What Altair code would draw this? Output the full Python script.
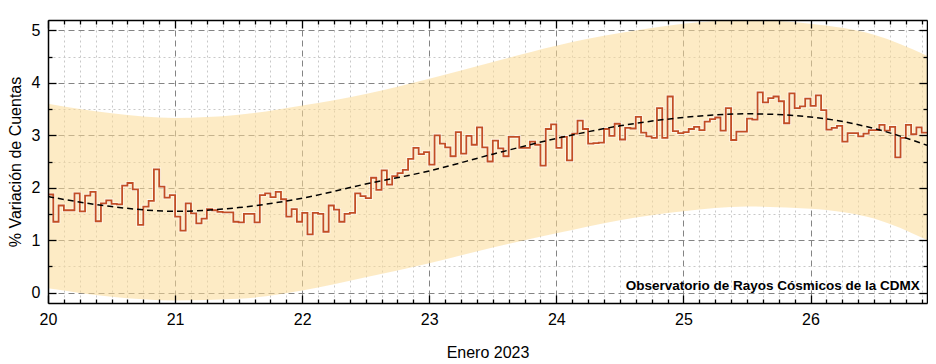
import altair as alt
import pandas as pd

# ---------------- data ----------------
START_DAY = 20.0
HOURS_PER_DAY = 24

# hourly % variation of counts, starting 20 Jan 2023 00:00
step_values = [
    1.87, 1.35, 1.66, 1.57, 1.57, 1.89, 1.55, 1.85, 1.92, 1.36, 1.70, 1.76,
    1.69, 1.68, 2.04, 2.09, 1.97, 1.29, 1.64, 1.75, 2.35, 2.02, 1.81, 1.86,
    1.45, 1.18, 1.70, 1.51, 1.32, 1.41, 1.59, 1.57, 1.54, 1.53, 1.53, 1.35,
    1.34, 1.50, 1.50, 1.34, 1.86, 1.89, 1.82, 1.92, 1.78, 1.45, 1.59, 1.35,
    1.52, 1.11, 1.52, 1.50, 1.16, 1.66, 1.58, 1.35, 1.50, 1.52, 1.89, 1.84,
    1.80, 2.19, 1.96, 2.33, 2.06, 2.22, 2.28, 2.34, 2.55, 2.76, 2.64, 2.68,
    2.44, 3.00, 2.84, 2.77, 2.60, 3.06, 2.65, 2.99, 2.82, 3.15, 2.77, 2.50,
    2.90, 2.75, 2.60, 2.97, 2.97, 2.76, 2.76, 2.88, 2.82, 2.42, 3.12, 3.21,
    2.76, 2.97, 2.52, 3.03, 3.28, 3.12, 2.84, 2.85, 2.86, 3.12, 2.99, 3.22,
    2.92, 3.14, 3.13, 3.35, 3.05, 2.98, 2.95, 3.52, 2.95, 3.74, 3.08, 3.04,
    3.06, 3.12, 3.16, 3.10, 3.26, 3.31, 3.34, 3.09, 3.52, 2.91, 3.07, 3.07,
    3.32, 3.30, 3.82, 3.63, 3.71, 3.74, 3.65, 3.23, 3.80, 3.52, 3.55, 3.70,
    3.56, 3.76, 3.48, 3.11, 3.14, 3.18, 2.88, 3.04, 3.04, 2.98, 3.03, 3.10,
    3.10, 3.20, 3.09, 3.16, 2.58, 2.95, 3.20, 3.02, 3.15, 3.05,
]

# smooth fit (dashed black)
fit_day = [20.0, 20.5, 21.0, 21.5, 22.0, 22.5, 23.0, 23.5, 24.0, 24.5, 25.0, 25.5, 26.0, 26.5, 26.9167]
fit_val = [1.83, 1.64, 1.55, 1.62, 1.80, 2.07, 2.32, 2.64, 2.94, 3.18, 3.34, 3.41, 3.35, 3.13, 2.81]

# shaded band
band_day = [20.0, 20.5, 21.0, 21.5, 22.0, 22.5, 23.0, 23.5, 24.0, 24.5, 25.0, 25.5, 26.0, 26.5, 26.9167]
band_upper = [3.60, 3.42, 3.33, 3.39, 3.57, 3.79, 4.08, 4.40, 4.71, 4.95, 5.13, 5.20, 5.13, 4.92, 4.52]
band_lower = [0.08, -0.08, -0.15, -0.12, 0.04, 0.29, 0.56, 0.86, 1.13, 1.38, 1.55, 1.64, 1.60, 1.41, 1.00]

x_major = [20, 21, 22, 23, 24, 25, 26]
x_minor = [20 + k / 8 for k in range(1, 56) if k % 8 != 0]
y_major = [0, 1, 2, 3, 4, 5]
y_minor = [0.5, 1.5, 2.5, 3.5, 4.5]

note_day = [26.86]
note_val = [0.05]
note_text = ["Observatorio de Rayos Cósmicos de la CDMX"]

X_DOMAIN = [20.0, 26.9167]
Y_DOMAIN = [-0.2, 5.2]
FONT = "Liberation Sans"

# ---------------- tables ----------------
step_day = [START_DAY + i / HOURS_PER_DAY for i in range(len(step_values) + 1)]
step_df = pd.DataFrame({"day": step_day, "val": step_values + [step_values[-1]]})
fit_df = pd.DataFrame({"day": fit_day, "val": fit_val})
band_df = pd.DataFrame({"day": band_day, "lo": band_lower, "hi": band_upper})
note_df = pd.DataFrame({"day": note_day, "val": note_val, "label": note_text})

xscale = alt.Scale(domain=X_DOMAIN, nice=False, zero=False)
yscale = alt.Scale(domain=Y_DOMAIN, nice=False, zero=False)

# ---------------- axes ----------------
def ax_grid(orient, values, dash, color):
    return alt.Axis(orient=orient, values=values, grid=True, gridDash=dash, gridColor=color,
                    gridWidth=1, domain=False, ticks=False, labels=False, zindex=0)

def ax_ticks(orient, values, size, domain):
    return alt.Axis(orient=orient, values=values, grid=False, labels=False, domain=domain,
                    domainColor="black", domainWidth=1.5, ticks=True, tickColor="black",
                    tickWidth=1.3, tickSize={"expr": str(-size)}, zindex=1)

x_lab = alt.Axis(orient="bottom", values=x_major, format="d", grid=False, domain=False, ticks=False,
                 labelFontSize=16, labelFont=FONT, labelColor="black", labelPadding=8,
                 labelFlush=False, titleFont=FONT, titleFontSize=16, titleFontWeight="normal",
                 titleColor="black", titlePadding=17, zindex=1)
y_lab = alt.Axis(orient="left", values=y_major, format="d", grid=False, domain=False, ticks=False,
                 labelFontSize=16, labelFont=FONT, labelColor="black", labelPadding=8,
                 labelFlush=False, titleFont=FONT, titleFontSize=16, titleFontWeight="normal",
                 titleColor="black", titlePadding=8, zindex=1)

def X(field, axis, title=None):
    return alt.X(field, type="quantitative", scale=xscale, axis=axis, title=title)

def Y(field, axis, title=None):
    return alt.Y(field, type="quantitative", scale=yscale, axis=axis, title=title)

MAJ_DASH = [6, 4]
MIN_DASH = [2, 3]

band = alt.Chart(band_df).mark_area(color="#FBDA95", opacity=0.55, interpolate="monotone", clip=True).encode(
    x=X("day", ax_grid("bottom", x_major, MAJ_DASH, "#848484")),
    y=Y("lo", ax_grid("left", y_major, MAJ_DASH, "#848484")),
    y2="hi",
)

halo = alt.Chart(step_df).mark_line(interpolate="step-after", color="white", strokeWidth=3.6, opacity=0.6).encode(
    x=X("day", ax_grid("bottom", x_minor, MIN_DASH, "#c8c8c8")),
    y=Y("val", ax_grid("left", y_minor, MIN_DASH, "#c8c8c8")),
)

step = alt.Chart(step_df).mark_line(interpolate="step-after", color="#C24E26", strokeWidth=1.8).encode(
    x=X("day", x_lab, "Enero 2023"),
    y=Y("val", y_lab, "% Variación de Cuentas"),
)

fit = alt.Chart(fit_df).mark_line(interpolate="monotone", color="black", strokeWidth=1.5, strokeDash=[6, 4]).encode(
    x=X("day", ax_ticks("bottom", x_major, 8, True)),
    y=Y("val", ax_ticks("left", y_major, 8, True)),
)

note = alt.Chart(note_df).mark_text(align="right", baseline="alphabetic", font=FONT, fontSize=13.5,
                                    fontWeight="bold", color="black").encode(
    x=X("day", ax_ticks("bottom", x_minor, 4, False)),
    y=Y("val", ax_ticks("left", y_minor, 4, False)),
    text="label",
)

frame_top = alt.Chart(fit_df).mark_point(opacity=0).encode(
    x=X("day", ax_ticks("top", x_major, 8, True)),
    y=Y("val", ax_ticks("right", y_major, 8, True)),
)

frame_minor = alt.Chart(fit_df).mark_point(opacity=0).encode(
    x=X("day", ax_ticks("top", x_minor, 4, False)),
    y=Y("val", ax_ticks("right", y_minor, 4, False)),
)

chart = alt.layer(band, halo, step, fit, note, frame_top, frame_minor).resolve_axis(
    x="independent", y="independent"
).properties(
    width=879, height=283,
    autosize=alt.AutoSizeParams(type="none"),
    padding={"left": 40, "top": 12, "right": 1, "bottom": 57},
).configure_view(stroke=None).configure(background="white")

chart.save("out.html", embed_options={"renderer": "svg", "actions": False})
